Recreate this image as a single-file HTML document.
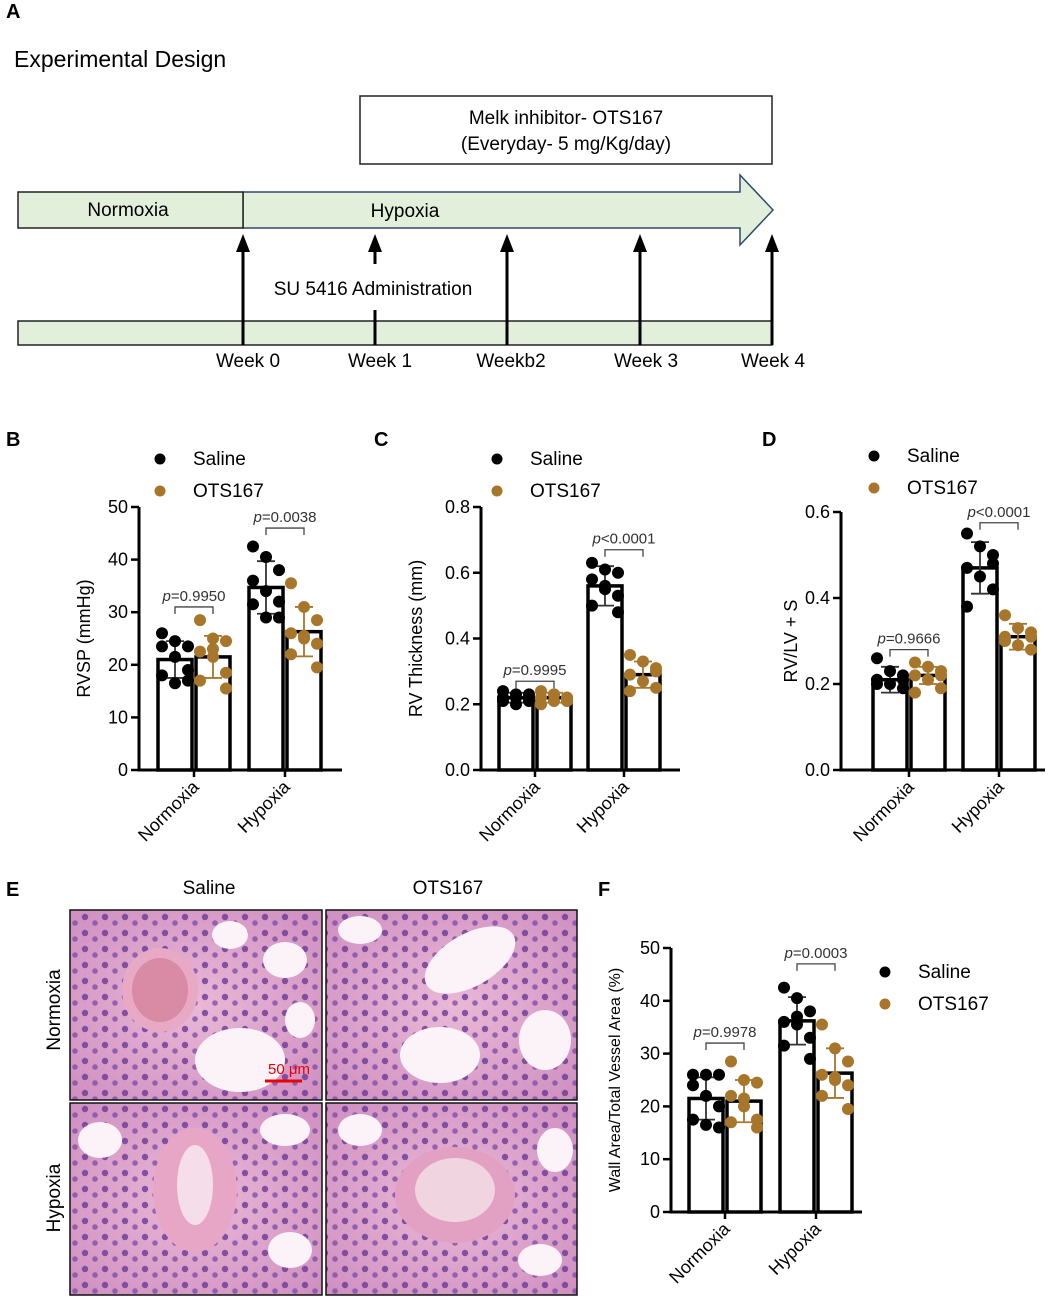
<!DOCTYPE html>
<html><head><meta charset="utf-8"><style>
body{margin:0;background:#fff}
svg{display:block;font-family:"Liberation Sans",Arial,sans-serif}
</style></head><body>
<svg id="fig" width="1059" height="1300" viewBox="0 0 1059 1300" xmlns="http://www.w3.org/2000/svg">
<defs>
<radialGradient id="tis" cx="50%" cy="50%" r="70%"><stop offset="0" stop-color="#eab8d6"/><stop offset="1" stop-color="#cf8fc0"/></radialGradient>
<pattern id="nuc" width="20" height="16" patternUnits="userSpaceOnUse"><circle cx="5" cy="5" r="3.2" fill="#6a3a96" opacity="0.8"/><circle cx="15" cy="11" r="2.8" fill="#7a4aa6" opacity="0.75"/></pattern>
</defs>
<g>
<text x="6" y="18" font-size="20" font-weight="bold">A</text>
<text x="14" y="67" font-size="23">Experimental Design</text>
<rect x="360" y="96" width="412" height="68" fill="#fff" stroke="#222" stroke-width="1.5"/>
<text x="566" y="124" font-size="19" text-anchor="middle">Melk inhibitor- OTS167</text>
<text x="566" y="150" font-size="19" text-anchor="middle">(Everyday- 5 mg/Kg/day)</text>
<path d="M243 192 H740 V175 L773 210 L740 245 V228 H243 Z" fill="#e2efda" stroke="#2f4a6e" stroke-width="1.5"/>
<rect x="18" y="192" width="225" height="36" fill="#e2efda" stroke="#222" stroke-width="1.5"/>
<text x="128" y="216" font-size="19" text-anchor="middle">Normoxia</text>
<text x="405" y="217" font-size="19" text-anchor="middle">Hypoxia</text>
<rect x="18" y="321" width="754" height="24" fill="#e2efda" stroke="#222" stroke-width="1.5"/>
<g fill="#000" stroke="#000" stroke-width="3">
<line x1="243" y1="345" x2="243" y2="248"/><path d="M236 252 L243 234 L250 252 Z" stroke="none"/>
<line x1="375" y1="264" x2="375" y2="248"/><path d="M368 252 L375 234 L382 252 Z" stroke="none"/>
<line x1="375" y1="310" x2="375" y2="345"/>
<line x1="507" y1="345" x2="507" y2="248"/><path d="M500 252 L507 234 L514 252 Z" stroke="none"/>
<line x1="640" y1="345" x2="640" y2="248"/><path d="M633 252 L640 234 L647 252 Z" stroke="none"/>
<line x1="772" y1="345" x2="772" y2="248"/><path d="M765 252 L772 234 L779 252 Z" stroke="none"/>
</g>
<text x="373" y="295" font-size="19" text-anchor="middle">SU 5416 Administration</text>
<g font-size="19" text-anchor="middle">
<text x="248" y="367">Week 0</text><text x="380" y="367">Week 1</text><text x="511" y="367">Weekb2</text><text x="646" y="367">Week 3</text><text x="773" y="367">Week 4</text>
</g>
</g>
<g id="charts"></g>
<g>
<text x="6" y="896" font-size="20" font-weight="bold">E</text>
<text x="209" y="894" font-size="19" text-anchor="middle">Saline</text>
<text x="448" y="894" font-size="19" text-anchor="middle">OTS167</text>
<text transform="translate(60 1010) rotate(-90)" font-size="19" text-anchor="middle">Normoxia</text>
<text transform="translate(60 1198) rotate(-90)" font-size="19" text-anchor="middle">Hypoxia</text>
<g>
<rect x="70" y="910" width="252" height="190" fill="url(#tis)"/><rect x="70" y="910" width="252" height="190" fill="url(#nuc)"/>
<ellipse cx="160" cy="990" rx="38" ry="42" fill="#e7a9c4"/><ellipse cx="160" cy="990" rx="28" ry="32" fill="#d98aa5"/>
<ellipse cx="240" cy="1060" rx="45" ry="32" fill="#fbf3f8"/><ellipse cx="285" cy="960" rx="22" ry="18" fill="#fbf3f8"/><ellipse cx="230" cy="935" rx="18" ry="14" fill="#fbf3f8"/><ellipse cx="300" cy="1020" rx="15" ry="18" fill="#fbf3f8"/>
<rect x="70" y="910" width="252" height="190" fill="none" stroke="#111" stroke-width="1.5"/>
<line x1="265" y1="1081" x2="302" y2="1081" stroke="#e00" stroke-width="3"/>
<text x="289" y="1074" font-size="15" fill="#e00" text-anchor="middle">50 μm</text>
</g>
<g>
<rect x="326" y="910" width="251" height="190" fill="url(#tis)"/><rect x="326" y="910" width="251" height="190" fill="url(#nuc)"/>
<ellipse cx="470" cy="960" rx="50" ry="26" fill="#fbf3f8" transform="rotate(-30 470 960)"/><ellipse cx="440" cy="1055" rx="40" ry="28" fill="#fbf3f8"/><ellipse cx="545" cy="1040" rx="26" ry="30" fill="#fbf3f8"/><ellipse cx="360" cy="930" rx="22" ry="14" fill="#fbf3f8"/>
<rect x="326" y="910" width="251" height="190" fill="none" stroke="#111" stroke-width="1.5"/>
</g>
<g>
<rect x="70" y="1103" width="252" height="192" fill="url(#tis)"/><rect x="70" y="1103" width="252" height="192" fill="url(#nuc)"/>
<ellipse cx="195" cy="1190" rx="42" ry="62" fill="#e8a6c6"/><ellipse cx="195" cy="1185" rx="18" ry="40" fill="#f5dde9"/>
<ellipse cx="100" cy="1140" rx="22" ry="18" fill="#fbf3f8"/><ellipse cx="285" cy="1130" rx="25" ry="16" fill="#fbf3f8"/><ellipse cx="290" cy="1250" rx="22" ry="18" fill="#fbf3f8"/>
<rect x="70" y="1103" width="252" height="192" fill="none" stroke="#111" stroke-width="1.5"/>
</g>
<g>
<rect x="326" y="1103" width="251" height="192" fill="url(#tis)"/><rect x="326" y="1103" width="251" height="192" fill="url(#nuc)"/>
<ellipse cx="455" cy="1195" rx="60" ry="48" fill="#e2a0c2"/><ellipse cx="455" cy="1190" rx="40" ry="32" fill="#f0d4e0"/>
<ellipse cx="360" cy="1130" rx="22" ry="16" fill="#fbf3f8"/><ellipse cx="555" cy="1150" rx="18" ry="22" fill="#fbf3f8"/><ellipse cx="540" cy="1260" rx="22" ry="16" fill="#fbf3f8"/>
<rect x="326" y="1103" width="251" height="192" fill="none" stroke="#111" stroke-width="1.5"/>
</g>
</g>
</svg>
<script>
// Panel B: RVSP
const bCategories = ["Normoxia", "Hypoxia"];
const bSalineMean = [21, 34.7];
const bSalineSD = [3.5, 5];
const bOtsMean = [21.5, 26.3];
const bOtsSD = [4, 4.7];
const bSalinePts = [[26,24.5,23.5,23.5,21.5,19,18,17,16.5],[42.5,40.5,38,36,34,32,31.5,29,29]];
const bOtsPts = [[28.5,25,24.5,22.5,21.5,18.5,17,15.5,23],[35.5,31,28.5,26,25.5,24,22,19.5,25]];
const bPLabels = ["p=0.9950", "p=0.0038"];
const bBracket = [31, 46];
const bTicks = [0,10,20,30,40,50];
// Panel C: RV thickness
const cCategories = ["Normoxia", "Hypoxia"];
const cSalineMean = [0.22, 0.56];
const cSalineSD = [0.015, 0.06];
const cOtsMean = [0.22, 0.29];
const cOtsSD = [0.015, 0.04];
const cSalinePts = [[0.24,0.23,0.23,0.22,0.22,0.21,0.21,0.22,0.20],[0.63,0.61,0.60,0.58,0.56,0.53,0.50,0.48,0.55]];
const cOtsPts = [[0.24,0.23,0.22,0.22,0.21,0.21,0.20,0.22,0.23],[0.35,0.33,0.31,0.29,0.27,0.25,0.24,0.30]];
const cPLabels = ["p=0.9995", "p<0.0001"];
const cBracket = [0.27, 0.67];
const cTicks = [0,0.2,0.4,0.6,0.8];
// Panel D: RV/LV+S
const dCategories = ["Normoxia", "Hypoxia"];
const dSalineMean = [0.21, 0.47];
const dSalineSD = [0.03, 0.06];
const dOtsMean = [0.22, 0.31];
const dOtsSD = [0.02, 0.03];
const dSalinePts = [[0.26,0.23,0.21,0.20,0.20,0.19,0.21,0.22],[0.55,0.52,0.50,0.47,0.45,0.42,0.38,0.48]];
const dOtsPts = [[0.25,0.24,0.23,0.22,0.21,0.19,0.18,0.22],[0.36,0.33,0.31,0.30,0.29,0.28,0.31,0.32]];
const dPLabels = ["p=0.9666", "p<0.0001"];
const dBracket = [0.28, 0.575];
const dTicks = [0,0.2,0.4,0.6];
// Panel F: wall area
const fCategories = ["Normoxia", "Hypoxia"];
const fSalineMean = [21.5, 36.2];
const fSalineSD = [4, 4.5];
const fOtsMean = [21, 26.3];
const fOtsSD = [4, 4.7];
const fSalinePts = [[26,26,26,24,22,20,17.5,16,16.5],[42.5,40.5,38,36,35.5,33,31.5,29,37]];
const fOtsPts = [[28.5,25,24.5,22,21.5,17.5,17,16,20],[35.5,31,28.5,26,25.5,24,22,19.5,25]];
const fPLabels = ["p=0.9978", "p=0.0003"];
const fBracket = [32, 47];
const fTicks = [0,10,20,30,40,50];

const NS = "http://www.w3.org/2000/svg";
const root = document.getElementById("charts");
const GOLD = "#a8762a";
function mk(tag, attrs, parent){const e=document.createElementNS(NS,tag);for(const k in attrs)e.setAttribute(k,attrs[k]);(parent||root).appendChild(e);return e;}

function drawChart(cfg){
  const g = mk("g",{});
  
  
  const ymax = cfg.ticks[cfg.ticks.length-1];
  const y = v => cfg.y0 - (v/ymax)*(cfg.y0-cfg.yTop);
  const pl = mk("text",{x:cfg.lx,y:cfg.ly,"font-size":20,"font-weight":"bold"},g); pl.textContent=cfg.letter;
  
  
  [["Saline","#000",0],["OTS167",GOLD,32]].forEach(([t,c,dy])=>{
    const d=mk("circle",{cx:cfg.legX,cy:cfg.legY+dy,r:5.5,fill:c},g);
    
    
    const tx=mk("text",{x:cfg.legX+33,y:cfg.legY+dy+6,"font-size":19},g); tx.textContent=t;
    
    
  });
  const barW = cfg.barW;
  cfg.cats.forEach((cat,i)=>{
    const cx = cfg.catX[i];
    const groups = [[cfg.sMean,cfg.sSD,cfg.sPts,"#000",cx-barW/2-2,"bar-saline"],[cfg.oMean,cfg.oSD,cfg.oPts,GOLD,cx+barW/2+2,"bar-ots167"]];
    groups.forEach(([mean,sd,pts,col,bx,nm])=>{
      const r=mk("rect",{x:bx-barW/2,y:y(mean[i]),width:barW,height:cfg.y0-y(mean[i]),fill:"#fff",stroke:"#000","stroke-width":3.5},g);
      
      
      const eb=mk("path",{d:`M${bx} ${y(mean[i]-sd[i])} V${y(mean[i]+sd[i])} M${bx-9} ${y(mean[i]+sd[i])} H${bx+9} M${bx-9} ${y(mean[i]-sd[i])} H${bx+9}`,stroke:col==="#000"?"#333":GOLD,"stroke-width":1.8,fill:"none"},g);
      
      
      pts[i].forEach((v,k)=>{
        const off = [-13,0,13,-13,0,13,-13,13,0][k%9];
        const c=mk("circle",{cx:bx+off,cy:y(v),r:6,fill:col},g);
        
        
      });
    });
    const by=y(cfg.bracket[i]), x1=cx-barW/2-2, x2=cx+barW/2+2;
    const br=mk("path",{d:`M${x1} ${by+7} V${by} H${x2} V${by+7}`,stroke:"#444","stroke-width":1.3,fill:"none"},g);
    
    
    const pt=mk("text",{x:cx,y:by-6,"font-size":15,"text-anchor":"middle",fill:"#333"},g);
    
    
    const s=cfg.pl[i]; const it=mk("tspan",{"font-style":"italic"},pt); it.textContent=s[0]; const rest=mk("tspan",{},pt); rest.textContent=s.slice(1);
    mk("line",{x1:cx,y1:cfg.y0,x2:cx,y2:cfg.y0+7,stroke:"#000","stroke-width":2.5},g);
    const xl=mk("text",{transform:`translate(${cx+6} ${cfg.y0+18}) rotate(-45)`,"font-size":18,"text-anchor":"end"},g);
    xl.textContent=cat;
    
    
  });
  const ax=mk("path",{d:`M${cfg.ax} ${cfg.yTop} V${cfg.y0} H${cfg.xEnd}`,stroke:"#000","stroke-width":3,fill:"none"},g);
  
  
  cfg.ticks.forEach(t=>{
    mk("line",{x1:cfg.ax-8,y1:y(t),x2:cfg.ax,y2:y(t),stroke:"#000","stroke-width":2.5},g);
    const tl=mk("text",{x:cfg.ax-11,y:y(t)+6,"font-size":18,"text-anchor":"end"},g);
    tl.textContent = cfg.dec ? t.toFixed(1) : String(t);
    
    
  });
  const yt=mk("text",{transform:`translate(${cfg.titleX} ${(cfg.y0+cfg.yTop)/2}) rotate(-90)`,"font-size":cfg.titleSize||18,"text-anchor":"middle"},g);
  yt.textContent=cfg.title;
  
  
}

drawChart({name:"chart-b-rvsp",letter:"B",lx:6,ly:446,legX:160,legY:459,cats:bCategories,sMean:bSalineMean,sSD:bSalineSD,oMean:bOtsMean,oSD:bOtsSD,sPts:bSalinePts,oPts:bOtsPts,pl:bPLabels,bracket:bBracket,ticks:bTicks,dec:false,ax:139,y0:770,yTop:507,xEnd:342,catX:[194,285],barW:34,titleX:90,title:"RVSP (mmHg)"});
drawChart({name:"chart-c-rv-thickness",letter:"C",lx:374,ly:446,legX:497,legY:459,cats:cCategories,sMean:cSalineMean,sSD:cSalineSD,oMean:cOtsMean,oSD:cOtsSD,sPts:cSalinePts,oPts:cOtsPts,pl:cPLabels,bracket:cBracket,ticks:cTicks,dec:true,ax:481,y0:770,yTop:507,xEnd:680,catX:[535,624],barW:34,titleX:422,title:"RV Thickness (mm)"});
drawChart({name:"chart-d-rvlv",letter:"D",lx:762,ly:446,legX:874,legY:456,cats:dCategories,sMean:dSalineMean,sSD:dSalineSD,oMean:dOtsMean,oSD:dOtsSD,sPts:dSalinePts,oPts:dOtsPts,pl:dPLabels,bracket:dBracket,ticks:dTicks,dec:true,ax:841,y0:770,yTop:512,xEnd:1045,catX:[909,999],barW:34,titleX:797,title:"RV/LV + S"});
drawChart({name:"chart-f-wall-area",letter:"F",lx:598,ly:896,legX:885,legY:972,cats:fCategories,sMean:fSalineMean,sSD:fSalineSD,oMean:fOtsMean,oSD:fOtsSD,sPts:fSalinePts,oPts:fOtsPts,pl:fPLabels,bracket:fBracket,ticks:fTicks,dec:false,ax:671,y0:1212,yTop:948,xEnd:862,catX:[725,816],barW:34,titleX:620,titleSize:16,title:"Wall Area/Total Vessel Area (%)"});
</script>
</body></html>
